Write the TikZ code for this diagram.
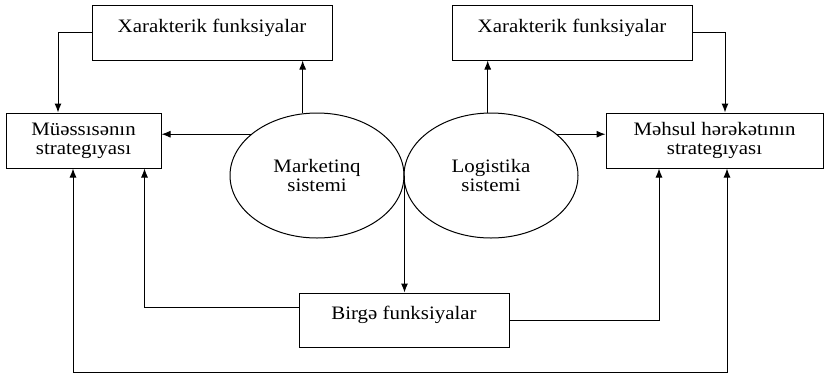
\documentclass[tikz,border=0pt]{standalone}
\usepackage{fontspec}
\setmainfont{Liberation Serif}[FakeStretch=1.1]
\usetikzlibrary{arrows.meta,shapes.geometric}

\begin{document}
\begin{tikzpicture}[x=1pt,y=-1pt,>={Latex[length=9pt,width=7pt]},line width=1pt,
        font=\fontsize{19}{19}\selectfont,
        funcbox/.style={draw,minimum height=55pt,inner sep=2pt,align=center},
        flatbox/.style={funcbox,text depth=14pt},
        sysoval/.style={draw,ellipse,minimum width=174pt,minimum height=125pt,inner sep=0pt,align=center}]
        \useasboundingbox (0,0) rectangle (824,376);

        \node[flatbox,minimum width=240pt] (xl) at (212,32.5) {Xarakterik funksiyalar};
        \node[flatbox,minimum width=240pt] (xr) at (572,32.5) {Xarakterik funksiyalar};
        \node[funcbox,minimum width=155pt] (mus) at (83.5,140.5) {Müəssısənın\\strategıyası};
        \node[funcbox,minimum width=217pt] (mah) at (714.5,140.5) {Məhsul hərəkətının\\strategıyası};
        \node[sysoval] (mark) at (317,175.5) {\raisebox{-4pt}{\shortstack{Marketinq\\sistemi}}};
        \node[sysoval] (log) at (491,175.5) {\raisebox{-4pt}{\shortstack{Logistika\\sistemi}}};
        \node[flatbox,minimum width=210pt,minimum height=54pt] (birge) at (404,320) {Birgə funksiyalar};
        \coordinate (bot) at (404,372);

        \draw[->] (mark.103) -- (mark.103 |- xl.south);
        \draw[->] (mark.148) -- (mark.148 -| mus.east);
        \draw[->] (xl.west) -| ([xshift=-25.5pt]mus.north);
        \draw[->] (log.93) -- (log.93 |- xr.south);
        \draw[->] (log.32) -- (log.32 -| mah.west);
        \draw[->] (xr.east) -| ([xshift=10.5pt]mah.north);
        \draw[->] (mark.east) -- (mark.east |- birge.north);
        \draw[->] ([yshift=13pt]birge.west) -| ([xshift=61pt]mus.south);
        \draw[->] (birge.east) -| ([xshift=-55.5pt]mah.south);
        \draw[<->] ([xshift=-10.5pt]mus.south) |- (bot) -| ([xshift=12.5pt]mah.south);
      \end{tikzpicture}
\end{document}
